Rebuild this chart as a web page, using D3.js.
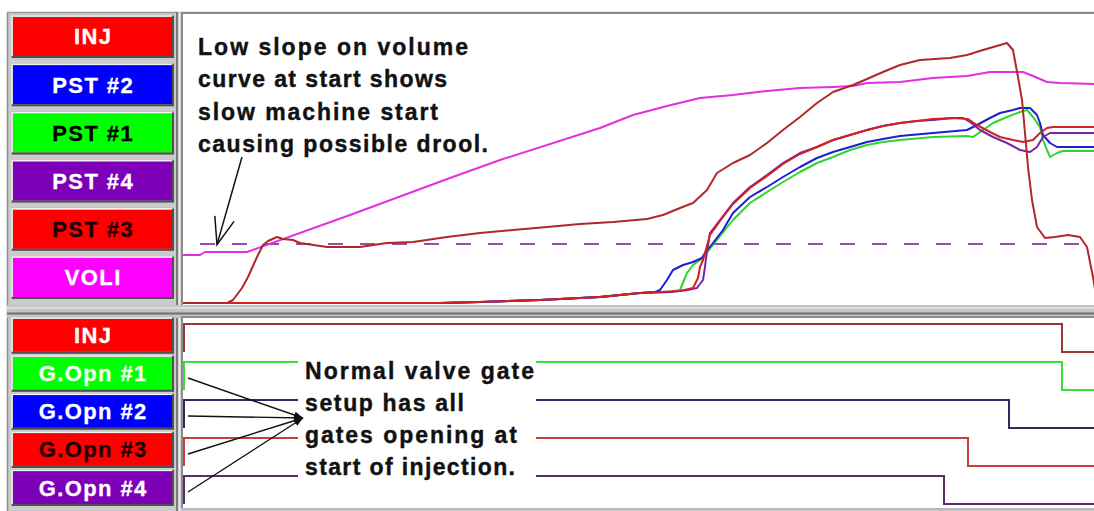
<!DOCTYPE html>
<html>
<head>
<meta charset="utf-8">
<script src="https://cdn.jsdelivr.net/npm/d3@7/dist/d3.min.js"></script>
<style>
  html, body { margin: 0; padding: 0; background: #fff; }
  svg { display: block; }
</style>
</head>
<body>
<svg id="chart" width="1094" height="511"></svg>
<script>
// ---- Shot trace data: time in ms, pressure / volume in machine units ----
const traceNames = ["INJ", "PST #2", "PST #1", "PST #4", "PST #3", "VOLI"];

const injTrace = [[0,0],[220,0],[250,15],[295,75],[325,130],[370,230],[400,290],[425,310],[470,330],[500,320],[550,315],[585,300],[720,280],[885,280],[1020,300],[1150,305],[1320,330],[1485,350],[1650,365],[1820,380],[1985,395],[2150,405],[2320,420],[2400,440],[2485,475],[2550,500],[2620,565],[2670,650],[2750,700],[2835,740],[2920,800],[3000,865],[3085,930],[3170,1000],[3250,1055],[3350,1090],[3420,1120],[3500,1155],[3585,1190],[3685,1215],[3835,1225],[3920,1240],[4000,1265],[4120,1300],[4150,1265],[4175,1130],[4195,1015],[4210,850],[4225,680],[4245,515],[4270,380],[4310,325],[4360,330],[4425,340],[4485,330],[4520,280],[4550,130],[4565,40]];

const pst2Trace = [[0,0],[1285,0],[1485,5],[1785,15],[2085,30],[2285,50],[2360,55],[2385,65],[2420,115],[2450,165],[2500,190],[2550,205],[2595,225],[2610,250],[2650,300],[2700,365],[2750,450],[2835,530],[2920,580],[3000,630],[3085,680],[3170,725],[3250,755],[3335,780],[3420,805],[3500,820],[3585,835],[3750,850],[3920,865],[3970,890],[4035,925],[4085,950],[4150,965],[4185,975],[4235,975],[4270,940],[4285,900],[4300,840],[4335,800],[4370,780],[4555,780]];

const pst1Trace = [[0,0],[1285,0],[1485,5],[1785,15],[2085,30],[2285,50],[2435,55],[2485,65],[2520,150],[2550,190],[2585,215],[2610,240],[2670,315],[2750,415],[2835,500],[2920,555],[3000,605],[3085,655],[3170,700],[3250,730],[3335,765],[3420,790],[3500,805],[3585,815],[3750,830],[3920,835],[3950,830],[4000,865],[4050,900],[4120,930],[4185,955],[4220,965],[4250,930],[4285,880],[4300,815],[4320,765],[4335,730],[4370,750],[4400,760],[4555,760]];

const pst4Trace = [[0,0],[1285,0],[1485,5],[1785,15],[2085,30],[2285,50],[2435,55],[2525,65],[2570,75],[2600,115],[2610,180],[2615,225],[2635,350],[2685,415],[2750,500],[2835,580],[2920,640],[3000,700],[3085,750],[3170,780],[3250,815],[3335,840],[3420,865],[3500,885],[3585,900],[3670,910],[3750,915],[3850,925],[3900,925],[3935,905],[3985,865],[4050,830],[4120,800],[4185,765],[4235,755],[4270,780],[4300,830],[4335,850],[4555,850]];

const pst3Trace = [[0,0],[1285,0],[1485,5],[1785,15],[2085,30],[2285,50],[2485,60],[2550,75],[2575,125],[2585,180],[2600,215],[2635,340],[2685,410],[2750,495],[2835,575],[2920,635],[3000,695],[3085,745],[3170,780],[3250,815],[3335,840],[3420,865],[3500,885],[3585,900],[3670,910],[3750,920],[3850,925],[3925,920],[3970,890],[4035,855],[4085,830],[4150,815],[4200,805],[4250,815],[4285,850],[4320,875],[4350,880],[4555,880]];

const voliTrace = [[0,240],[85,240],[110,255],[320,255],[835,440],[1335,625],[1585,715],[2085,875],[2250,940],[2420,985],[2585,1025],[2750,1040],[2920,1060],[3085,1075],[3250,1080],[3350,1085],[3420,1100],[3585,1105],[3750,1125],[3920,1135],[4035,1155],[4200,1155],[4250,1135],[4320,1105],[4385,1100],[4555,1095]];

// transfer / switchover reference level
const refLevel = 295;
const refStart = 85;

// ---- Gate signals ----
const gateNames = ["INJ", "G.Opn #1", "G.Opn #2", "G.Opn #3", "G.Opn #4"];
const gateOnTime = [0, 0, 0, 0, 0];
const gateOffTime = [4390, 4390, 4125, 3920, 3800];

const timeDomain = [0, 4555];
const valueDomain = [0, 1450];

// ---- styling ----
const traceColors = {
  "INJ": "#b02828", "PST #2": "#1e1ed2", "PST #1": "#2cd62c",
  "PST #4": "#7426a6", "PST #3": "#d42020", "VOLI": "#e030e0"
};
const traceButtons = [
  { fill: "#ff0000", text: "#ffffff" },
  { fill: "#0000ff", text: "#ffffff" },
  { fill: "#00ff00", text: "#000000" },
  { fill: "#7d00b8", text: "#ffffff" },
  { fill: "#ff0000", text: "#200000" },
  { fill: "#ff00ff", text: "#ffffff" }
];
const gateButtons = [
  { fill: "#ff0000", text: "#ffffff" },
  { fill: "#00ff00", text: "#f4fff4" },
  { fill: "#0000ff", text: "#ffffff" },
  { fill: "#ff0000", text: "#200000" },
  { fill: "#7d00b8", text: "#ffffff" }
];
const gateColors = ["#9c3636", "#36e036", "#2c2c62", "#c83c3c", "#5a2c6c"];

const svg = d3.select("#chart");
const W = 1094, H = 511;
const FONT = "'Liberation Sans', Arial, sans-serif";

// ---- window chrome ----
svg.append("rect").attr("x", 0).attr("y", 0).attr("width", W).attr("height", H).attr("fill", "#ffffff");
svg.append("rect").attr("x", 7).attr("y", 12).attr("width", W - 7).attr("height", H - 12).attr("fill", "#cbcbcb");
svg.append("line").attr("x1", 7.5).attr("x2", 7.5).attr("y1", 12).attr("y2", H).attr("stroke", "#8a8a8a").attr("stroke-width", 1.5);
svg.append("line").attr("x1", 7).attr("x2", W).attr("y1", 12.5).attr("y2", 12.5).attr("stroke", "#9a9a9a").attr("stroke-width", 1.5);

// splitter between the two panes
svg.append("rect").attr("x", 7).attr("y", 305).attr("width", W - 7).attr("height", 13).attr("fill", "#c4c4c4");
svg.append("line").attr("x1", 7).attr("x2", W).attr("y1", 308).attr("y2", 308).attr("stroke", "#e6e6e6").attr("stroke-width", 1.5);
svg.append("line").attr("x1", 7).attr("x2", W).attr("y1", 313.5).attr("y2", 313.5).attr("stroke", "#6e6e6e").attr("stroke-width", 2);

// legend panel edges
[[177, 12, 305], [177, 318, 511]].forEach(([x, y0, y1]) => {
  svg.append("line").attr("x1", x).attr("x2", x).attr("y1", y0).attr("y2", y1).attr("stroke", "#7a7a7a").attr("stroke-width", 2);
  svg.append("line").attr("x1", x + 2.5).attr("x2", x + 2.5).attr("y1", y0).attr("y2", y1).attr("stroke", "#eeeeee").attr("stroke-width", 1.5);
});

// plot areas
const topArea = { x: 183, y: 14, w: W - 183, h: 291 };
const botArea = { x: 183, y: 318, w: W - 183, h: 190 };
[topArea, botArea].forEach(a => {
  svg.append("rect").attr("x", a.x).attr("y", a.y).attr("width", a.w).attr("height", a.h).attr("fill", "#ffffff");
  svg.append("line").attr("x1", a.x - 1).attr("x2", a.x - 1).attr("y1", a.y - 1).attr("y2", a.y + a.h)
    .attr("stroke", "#8c8c8c").attr("stroke-width", 2);
  svg.append("line").attr("x1", a.x - 2).attr("x2", W).attr("y1", a.y - 1).attr("y2", a.y - 1)
    .attr("stroke", "#8c8c8c").attr("stroke-width", 2);
});
svg.append("line").attr("x1", 182).attr("x2", W).attr("y1", 509).attr("y2", 509).attr("stroke", "#b8b8b8").attr("stroke-width", 2);

const defs = svg.append("defs");
defs.append("clipPath").attr("id", "clipTop").append("rect")
  .attr("x", topArea.x).attr("y", topArea.y).attr("width", topArea.w).attr("height", topArea.h - 1);
defs.append("clipPath").attr("id", "clipBot").append("rect")
  .attr("x", botArea.x).attr("y", botArea.y).attr("width", botArea.w).attr("height", botArea.h);

// ---- legend buttons ----
function drawButtons(names, styles, band, fontSize, spacing) {
  const g = svg.append("g");
  names.forEach((name, i) => {
    const x = 13, w = 159, y = band(name), h = band.bandwidth();
    g.append("rect").attr("x", x - 2).attr("y", y - 2).attr("width", w + 4).attr("height", h + 4).attr("fill", "#a8a8a8");
    g.append("rect").attr("x", x).attr("y", y).attr("width", w).attr("height", h).attr("fill", styles[i].fill);
    g.append("path").attr("d", `M${x - 1},${y + h} V${y - 1} H${x + w}`)
      .attr("fill", "none").attr("stroke", "#f2f2f2").attr("stroke-width", 1.5);
    g.append("path").attr("d", `M${x - 1},${y + h + 1} H${x + w + 1} V${y - 1}`)
      .attr("fill", "none").attr("stroke", "#505050").attr("stroke-width", 2);
    g.append("text").attr("x", x + w / 2 + spacing / 2).attr("y", y + h / 2 + fontSize * 0.36)
      .attr("text-anchor", "middle").attr("font-family", FONT).attr("font-weight", "bold")
      .attr("font-size", fontSize).attr("letter-spacing", spacing).attr("fill", styles[i].text)
      .attr("stroke", styles[i].text).attr("stroke-width", 0.3)
      .text(name);
  });
}
const traceBand = d3.scaleBand().domain(traceNames).range([17, 297]).paddingInner(0.19);
const gateBand = d3.scaleBand().domain(gateNames).range([319, 504]).paddingInner(0.14);
drawButtons(traceNames, traceButtons, traceBand, 22, 1.4);
drawButtons(gateNames, gateButtons, gateBand, 22, 1.4);

// ---- top pane: pressure / volume traces ----
const x = d3.scaleLinear().domain(timeDomain).range([183, 1094]);
const y = d3.scaleLinear().domain(valueDomain).range([303, 13]);
const line = d3.line().x(d => x(d[0])).y(d => y(d[1]));

const topG = svg.append("g").attr("clip-path", "url(#clipTop)");

topG.append("line")
  .attr("x1", x(refStart)).attr("x2", x(timeDomain[1]))
  .attr("y1", y(refLevel)).attr("y2", y(refLevel))
  .attr("stroke", "#9450a4").attr("stroke-width", 2).attr("stroke-dasharray", "15,17");

const traces = [
  ["PST #1", pst1Trace], ["PST #2", pst2Trace], ["PST #4", pst4Trace],
  ["PST #3", pst3Trace], ["VOLI", voliTrace], ["INJ", injTrace]
];
traces.forEach(([name, data]) => {
  topG.append("path").datum(data).attr("d", line)
    .attr("fill", "none").attr("stroke", traceColors[name])
    .attr("stroke-width", 2).attr("stroke-linejoin", "round");
});

// ---- bottom pane: gate open signals ----
const rowBand = d3.scaleBand().domain(gateNames).range([324, 324 + 38 * gateNames.length]);
const stateY = d3.scaleLinear().domain([0, 1]).range([28, 0]);
const botG = svg.append("g").attr("clip-path", "url(#clipBot)");
gateNames.forEach((name, i) => {
  const steps = [
    [gateOnTime[i], 0], [gateOnTime[i], 1],
    [gateOffTime[i], 1], [gateOffTime[i], 0],
    [timeDomain[1], 0]
  ];
  const stepLine = d3.line().x(d => x(d[0]) + 1).y(d => rowBand(name) + stateY(d[1]));
  botG.append("path").datum(steps).attr("d", stepLine)
    .attr("fill", "none").attr("stroke", gateColors[i]).attr("stroke-width", 2);
});

// ---- annotations ----
const noteTop = [
  { text: "Low slope on volume", w: 270 },
  { text: "curve at start shows", w: 249 },
  { text: "slow machine start", w: 240 },
  { text: "causing possible drool.", w: 290 }
];
noteTop.forEach((d, i) => {
  svg.append("text").attr("x", 198).attr("y", 55 + i * 32.3)
    .attr("font-family", FONT).attr("font-weight", "bold").attr("font-size", 23)
    .attr("textLength", d.w).attr("lengthAdjust", "spacing").attr("fill", "#111")
    .attr("stroke", "#111").attr("stroke-width", 0.4)
    .text(d.text);
});

defs.append("marker").attr("id", "openHead").attr("markerUnits", "userSpaceOnUse")
  .attr("viewBox", "-30 -12 32 24").attr("refX", 0).attr("refY", 0)
  .attr("markerWidth", 32).attr("markerHeight", 24).attr("orient", "auto")
  .append("path").attr("d", "M-27,-10 L0,0 L-27,10").attr("fill", "none")
  .attr("stroke", "#111").attr("stroke-width", 1.5);
svg.append("line")
  .attr("x1", x(295)).attr("y1", y(730)).attr("x2", x(170)).attr("y2", y(292))
  .attr("stroke", "#111").attr("stroke-width", 1.5).attr("marker-end", "url(#openHead)");

// note box in the gate pane (blanks the signal lines behind it)
svg.append("rect").attr("x", 298).attr("y", 356).attr("width", 238).attr("height", 128).attr("fill", "#ffffff");
const noteBottom = [
  { text: "Normal valve gate", w: 229 },
  { text: "setup has all", w: 159 },
  { text: "gates opening at", w: 212 },
  { text: "start of injection.", w: 210 }
];
noteBottom.forEach((d, i) => {
  svg.append("text").attr("x", 305).attr("y", 379 + i * 32)
    .attr("font-family", FONT).attr("font-weight", "bold").attr("font-size", 23)
    .attr("textLength", d.w).attr("lengthAdjust", "spacing").attr("fill", "#111")
    .attr("stroke", "#111").attr("stroke-width", 0.4)
    .text(d.text);
});

defs.append("marker").attr("id", "solidHead").attr("markerUnits", "userSpaceOnUse")
  .attr("viewBox", "-10 -5 12 10").attr("refX", 0).attr("refY", 0)
  .attr("markerWidth", 12).attr("markerHeight", 10).attr("orient", "auto")
  .append("path").attr("d", "M-9,-3.5 L0,0 L-9,3.5 Z").attr("fill", "#111");
const tip = [303, rowBand("G.Opn #2") + 18];
gateNames.slice(1).forEach(name => {
  svg.append("line")
    .attr("x1", x(25)).attr("y1", rowBand(name) + 16)
    .attr("x2", tip[0]).attr("y2", tip[1])
    .attr("stroke", "#111").attr("stroke-width", 1.4).attr("marker-end", "url(#solidHead)");
});
</script>
</body>
</html>
